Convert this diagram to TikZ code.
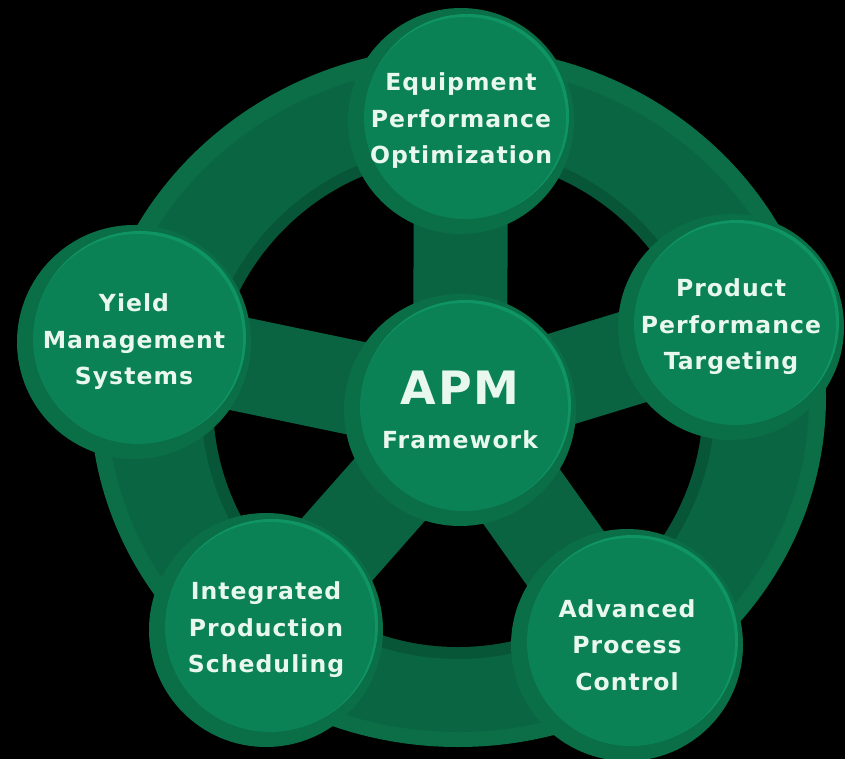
\documentclass[tikz,border=0pt]{standalone}
\usepackage{fontspec}
\newfontfamily\bubfont{DejaVu Sans}[BoldFont={DejaVu Sans Bold},LetterSpace=4.5]
\pgfdeclarelayer{ringlayer}
\pgfdeclarelayer{spokelayer}
\pgfsetlayers{ringlayer,spokelayer,main}
\definecolor{bgc}{RGB}{0,0,0}
\definecolor{ringout}{RGB}{11,110,71}
\definecolor{ringbody}{RGB}{10,102,66}
\definecolor{ringin}{RGB}{8,86,56}
\definecolor{spokec}{RGB}{10,100,65}
\definecolor{rimc}{RGB}{10,110,71}
\definecolor{hlc}{RGB}{15,148,99}
\definecolor{diskc}{RGB}{11,130,85}
\definecolor{txtc}{RGB}{232,248,238}
\tikzset{
  x=1pt, y=-1pt,
  bubble/.style={circle, inner sep=0pt, minimum size={2*#1pt}, fill=rimc,
    text=txtc, align=center, font=\bubfont\bfseries\fontsize{23.5}{36.5}\selectfont,
    path picture={
      \fill[hlc] ([shift={(6pt,5pt)}]path picture bounding box.center) circle[radius={#1pt-11pt}];
      \fill[diskc] ([shift={(4pt,3pt)}]path picture bounding box.center) circle[radius={#1pt-12pt}];
    }},
  spoke/.style={line width=94pt, spokec},
}
\begin{document}
\begin{tikzpicture}
\useasboundingbox (0,0) rectangle (845,759);
% ring
\begin{pgfonlayer}{ringlayer}
  \fill[bgc] (0,0) rectangle (845,759);
  \fill[ringout] (458,397) ellipse [x radius=368pt, y radius=350pt];
  \fill[ringbody] (458,399) ellipse [x radius=351pt, y radius=333pt];
  \fill[ringin] (458,402) circle [radius=257pt];
  \fill[bgc] (458,402) circle [radius=245pt];
\end{pgfonlayer}
% nodes
\node[bubble=116] (apm) at (460,410) {{\fontsize{46}{46}\selectfont APM}\\[7pt]Framework};
\node[bubble=113] (eq) at (461,121) {Equipment\\Performance\\Optimization};
\node[bubble=113] (prod) at (731,327) {Product\\Performance\\Targeting};
\node[bubble=117] (yield) at (134,342) {Yield\\Management\\Systems};
\node[bubble=117] (integ) at (266,630) {Integrated\\Production\\Scheduling};
\node[bubble=116] (adv) at (627,645) {Advanced\\Process\\Control};
% spokes
\begin{pgfonlayer}{spokelayer}
  \foreach \n in {eq,prod,yield,integ,adv}
    \draw[spoke] (apm.center) -- (\n.center);
\end{pgfonlayer}
\end{tikzpicture}
\end{document}
